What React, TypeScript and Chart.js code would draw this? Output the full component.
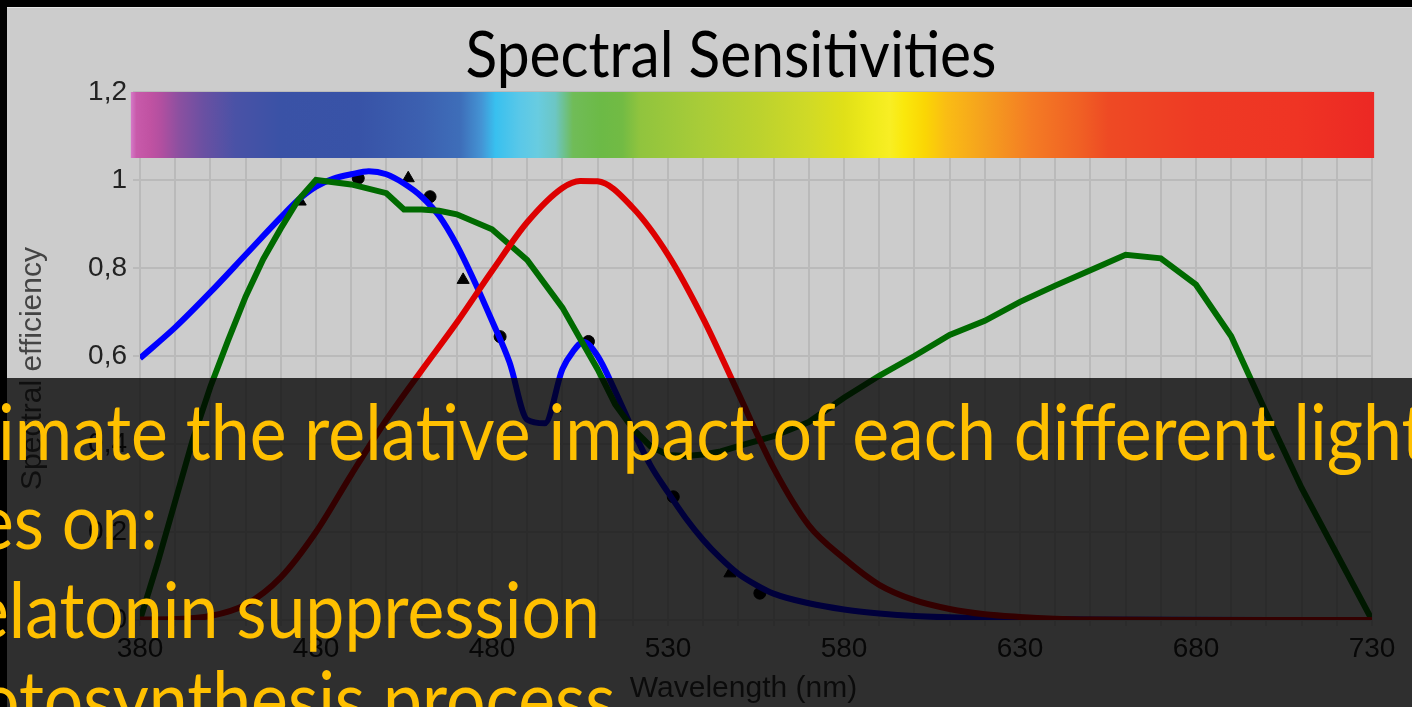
import React, { useEffect, useRef } from 'react';
import { Chart, registerables } from 'chart.js';

Chart.register(...registerables);

const titleText = 'Spectral Sensitivities';
const xAxisTitle = 'Wavelength (nm)';
const yAxisTitle = 'Spectral efficiency';
const xTickLabels = [380, 430, 480, 530, 580, 630, 680, 730];
const yTickValues = [0, 0.2, 0.4, 0.6, 0.8, 1, 1.2];

const blueNm = [380, 390, 400, 410, 420, 425, 430, 435, 440, 445, 450, 455, 460, 465, 470, 475, 480, 485, 490, 495, 500, 503, 506, 510, 515, 520, 525, 530, 535, 540, 545, 550, 555, 560, 570, 580, 590, 600, 620, 650, 730];
const blueVal = [0.595, 0.665, 0.745, 0.83, 0.915, 0.955, 0.985, 1.003, 1.013, 1.02, 1.013, 0.992, 0.962, 0.918, 0.852, 0.77, 0.68, 0.585, 0.455, 0.447, 0.57, 0.61, 0.632, 0.6, 0.52, 0.432, 0.352, 0.29, 0.232, 0.182, 0.14, 0.105, 0.08, 0.06, 0.038, 0.024, 0.015, 0.009, 0.004, 0.001, 0];

const redNm = [380, 390, 400, 410, 420, 430, 440, 450, 460, 470, 480, 490, 500, 505, 510, 520, 530, 540, 550, 560, 570, 580, 590, 600, 610, 620, 630, 640, 650, 660, 680, 700, 730];
const redVal = [0.001, 0.002, 0.009, 0.035, 0.097, 0.2, 0.33, 0.455, 0.567, 0.676, 0.793, 0.904, 0.982, 0.998, 0.997, 0.937, 0.83, 0.685, 0.515, 0.345, 0.215, 0.14, 0.08, 0.045, 0.025, 0.013, 0.007, 0.003, 0.001, 0.0005, 0.0002, 0, 0];

const greenNm = [380, 385, 390, 395, 400, 405, 410, 415, 420, 425, 430, 440, 450, 455, 460, 465, 470, 480, 490, 500, 505, 510, 515, 520, 525, 530, 535, 540, 545, 550, 560, 570, 580, 590, 600, 610, 620, 630, 640, 650, 660, 670, 680, 690, 700, 710, 720, 730];
const greenVal = [0, 0.13, 0.27, 0.41, 0.53, 0.635, 0.735, 0.82, 0.89, 0.955, 1.0, 0.99, 0.97, 0.933, 0.933, 0.93, 0.922, 0.888, 0.818, 0.71, 0.64, 0.57, 0.49, 0.435, 0.395, 0.375, 0.373, 0.376, 0.383, 0.395, 0.418, 0.45, 0.505, 0.555, 0.6, 0.648, 0.68, 0.723, 0.76, 0.795, 0.83, 0.822, 0.762, 0.645, 0.47, 0.3, 0.15, 0];

const circleNm = [442, 462.4, 482.3, 507.4, 531.5, 556.1];
const circleVal = [1.004, 0.962, 0.644, 0.633, 0.28, 0.061];
const triangleNm = [425.5, 456.2, 471.8, 497.9, 547.6];
const triangleVal = [0.951, 1.004, 0.773, 0.482, 0.106];

const spectrumNm = [377.4, 379, 383, 386, 391, 398, 407, 420, 442, 460, 471, 477, 481, 488, 493, 498, 503, 511, 517, 522, 539, 556, 570, 580, 587, 593, 597, 603, 609, 620, 633, 647, 655, 681, 709, 730.6];
const spectrumColors = ['#d57ac8', '#c85aaa', '#c052a2', '#b24fa0', '#8c50a0', '#6a50a2', '#4a52a6', '#3a52a6', '#3853a7', '#3c60b0', '#3e6eb9', '#4494d4', '#38c0ef', '#5ac8e8', '#68cce0', '#6cc6c4', '#70bc58', '#6cba46', '#72bb44', '#90c43e', '#a8cc38', '#bcd22e', '#d0da26', '#e0e018', '#eeea1a', '#f8ee24', '#fae80c', '#fad604', '#fabd14', '#f5a01e', '#f47c24', '#f06024', '#ee4a24', '#ee3a24', '#ef3424', '#ec2824'];
const spectrumTop = 1.2;
const spectrumBottom = 1.05;

const overlayLines = [
  'imate the relative impact of each different light',
  'es on:',
  'elatonin suppression',
  'otosynthesis process',
];
const overlayLineShift = [-2, -23, -28, -20];

const pts = (xs: number[], ys: number[]) => xs.map((x, i) => ({ x, y: ys[i] }));

const spectrumPlugin = {
  id: 'spectrumBar',
  beforeDatasetsDraw(chart: any) {
    const { ctx, scales } = chart;
    const xs = scales.x;
    const ys = scales.y;
    const x0 = xs.getPixelForValue(spectrumNm[0]);
    const x1 = xs.getPixelForValue(spectrumNm[spectrumNm.length - 1]);
    const y0 = ys.getPixelForValue(spectrumTop);
    const y1 = ys.getPixelForValue(spectrumBottom);
    const g = ctx.createLinearGradient(x0, 0, x1, 0);
    spectrumNm.forEach((nm, i) => {
      const p = (xs.getPixelForValue(nm) - x0) / (x1 - x0);
      g.addColorStop(Math.min(1, Math.max(0, p)), spectrumColors[i]);
    });
    ctx.save();
    ctx.fillStyle = g;
    ctx.fillRect(x0, y0, x1 - x0, y1 - y0);
    ctx.restore();
  },
};

const NB3 = '\u00a0\u00a0\u00a0';

export default function App() {
  const ref = useRef<HTMLCanvasElement | null>(null);
  useEffect(() => {
    if (!ref.current) return;
    const chart = new Chart(ref.current, {
      type: 'line',
      data: {
        datasets: [
          {
            label: 'Scotopic',
            data: pts(redNm, redVal),
            borderColor: '#dd0000',
            borderWidth: 6,
            pointRadius: 0,
            cubicInterpolationMode: 'monotone',
            order: 1,
          },
          {
            label: 'Photosynthesis',
            data: pts(greenNm, greenVal),
            borderColor: '#006a00',
            borderWidth: 6,
            pointRadius: 0,
            tension: 0,
            order: 2,
          },
          {
            label: 'Melatonin',
            data: pts(blueNm, blueVal),
            borderColor: '#0000ff',
            borderWidth: 6,
            pointRadius: 0,
            cubicInterpolationMode: 'monotone',
            order: 3,
          },
          {
            label: 'Data circles',
            data: pts(circleNm, circleVal),
            showLine: false,
            pointStyle: 'circle',
            pointRadius: 6,
            pointBackgroundColor: '#000',
            pointBorderColor: '#000',
            order: 4,
          },
          {
            label: 'Data triangles',
            data: pts(triangleNm, triangleVal),
            showLine: false,
            pointStyle: 'triangle',
            pointRadius: 7,
            pointBackgroundColor: '#000',
            pointBorderColor: '#000',
            order: 4,
          },
        ],
      } as any,
      options: {
        animation: false,
        responsive: false,
        devicePixelRatio: 1,
        layout: { padding: { top: 84, left: 0, right: 40, bottom: 0 } },
        plugins: {
          legend: { display: false },
          tooltip: { enabled: false },
          title: { display: false },
        },
        scales: {
          x: {
            type: 'linear',
            min: 380,
            max: 730,
            border: { display: false },
            grid: { color: '#bababa', lineWidth: 2, tickLength: 6 },
            ticks: {
              stepSize: 10,
              autoSkip: false,
              maxRotation: 0,
              minRotation: 0,
              padding: 6,
              color: '#222',
              font: { family: "'Liberation Sans', Arial, sans-serif", size: 28 },
              callback: (v: any) => (xTickLabels.includes(Number(v)) ? String(v) : ''),
            },
            title: {
              display: true,
              text: xAxisTitle + NB3,
              color: '#333',
              padding: { top: 0, bottom: 0 },
              font: { family: "'Liberation Sans', Arial, sans-serif", size: 30 },
            },
            afterFit: (s: any) => {
              s.height = 87;
              s.paddingLeft = 0;
              s.paddingRight = 0;
            },
          },
          y: {
            type: 'linear',
            min: 0,
            max: 1.2,
            border: { display: false },
            grid: { color: '#bababa', lineWidth: 2, tickLength: 7 },
            afterBuildTicks: (s: any) => {
              s.ticks = yTickValues.map((v) => ({ value: v }));
            },
            ticks: {
              padding: 6,
              color: '#222',
              font: { family: "'Liberation Sans', Arial, sans-serif", size: 28 },
              callback: (v: any) => String(Math.round(Number(v) * 10) / 10).replace('.', ','),
            },
            title: {
              display: true,
              text: yAxisTitle + NB3,
              color: '#444',
              padding: { top: 8, bottom: 0 },
              font: { family: "'Liberation Sans', Arial, sans-serif", size: 30 },
            },
            afterFit: (s: any) => {
              s.width = 133;
              s.paddingTop = 0;
              s.paddingBottom = 0;
            },
          },
        },
      } as any,
      plugins: [spectrumPlugin],
    });
    return () => chart.destroy();
  }, []);

  return (
    <div style={{ position: 'fixed', left: 0, top: 0, width: 1412, height: 707, overflow: 'hidden', background: '#000' }}>
      <div style={{ position: 'absolute', left: 7, top: 7, width: 1405, height: 1, background: '#e4e4e4' }} />
      <div style={{ position: 'absolute', left: 7, top: 8, width: 1405, height: 699, background: '#cccccc' }}>
        <canvas ref={ref} width={1405} height={699} style={{ display: 'block', width: 1405, height: 699 }} />
      </div>
      <div
        style={{
          position: 'absolute',
          left: 731,
          top: 21,
          transform: 'translateX(-50%) scaleX(0.917)',
          whiteSpace: 'nowrap',
          fontFamily: 'Lato, sans-serif',
          fontSize: 64,
          lineHeight: '64px',
          color: '#000',
        }}
      >
        {titleText}
      </div>
      <div style={{ position: 'absolute', left: 0, top: 378, width: 1412, height: 329, background: 'rgba(0,0,0,0.77)' }} />
      <div
        style={{
          position: 'absolute',
          left: 0,
          top: 386,
          whiteSpace: 'pre',
          fontFamily: 'Lato, sans-serif',
          fontSize: 78,
          lineHeight: '89px',
          color: '#ffc000',
        }}
      >
        {overlayLines.map((l, i) => (
          <div key={i} style={{ marginLeft: overlayLineShift[i], transform: 'scaleX(0.894)', transformOrigin: 'left center' }}>
            {l}
          </div>
        ))}
      </div>
    </div>
  );
}
